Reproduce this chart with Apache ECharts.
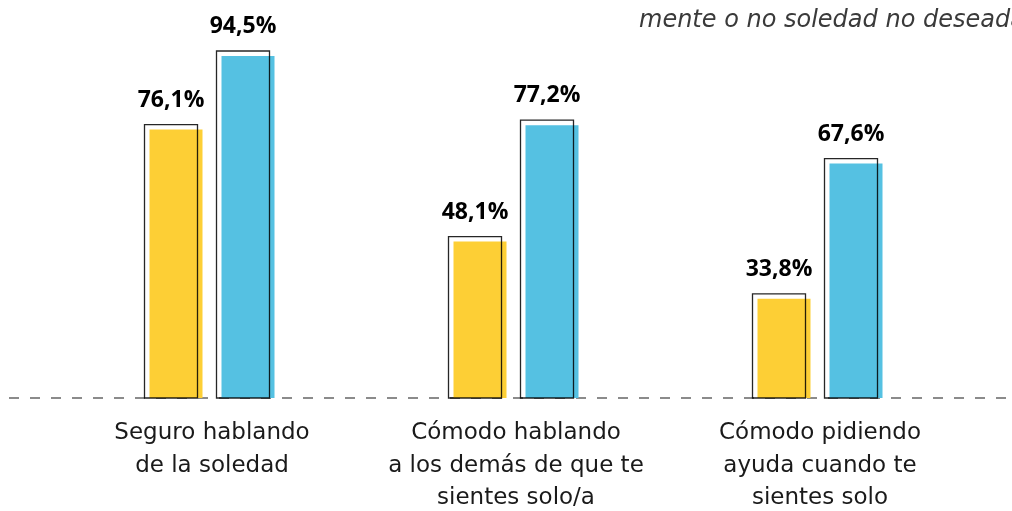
<!DOCTYPE html>
<html>
<head>
<meta charset="utf-8">
<script src="https://cdn.jsdelivr.net/npm/echarts@6/dist/echarts.min.js"></script>
<style>
  html, body { margin: 0; padding: 0; background: #fff; }
  #main { width: 1012px; height: 511px; }
</style>
</head>
<body>
<div id="main"></div>
<script>
// categorias (eje x)
var categorias = [
    'Seguro hablando\nde la soledad',
    'Cómodo hablando\na los demás de que te\nsientes solo/a',
    'Cómodo pidiendo\nayuda cuando te\nsientes solo'
];
// valores de cada serie (%)
var serieAmarilla = [76.1, 48.1, 33.8];
var serieAzul = [94.5, 77.2, 67.6];
// rango del eje y
var yMin = 9;
var yMax = 100;

var titulo = 'mente o no soledad no deseada';

var AMARILLO = '#fdcf35';
var AZUL = '#55c1e2';
var ANCHO = 53;   // ancho de barra
var HUECO = 19;   // hueco entre barras
var DESP = 5;     // desplazamiento del contorno

var myChart = echarts.init(document.getElementById('main'));

// contorno desplazado arriba-izquierda de cada barra
function contorno(lado) {
    return function (params, api) {
        var idx = api.value(0);
        var p = api.coord([idx, api.value(1)]);
        var base = api.coord([idx, yMin]);
        var cx = p[0] + lado * (ANCHO + HUECO) / 2;
        return {
            type: 'rect',
            shape: {
                x: cx - ANCHO / 2 - DESP,
                y: p[1] - DESP,
                width: ANCHO,
                height: base[1] - p[1] + DESP
            },
            style: { fill: null, stroke: 'rgba(0,0,0,0.85)', lineWidth: 1.3 },
            z2: 10
        };
    };
}

function etiqueta(v) {
    return String(v.toFixed(1)).replace('.', ',') + '%';
}

var labelCfg = {
    show: true,
    position: 'top',
    distance: 18,
    offset: [-DESP, 0],
    formatter: function (p) { return etiqueta(p.value); },
    fontFamily: 'Open Sans',
    fontWeight: 'bold',
    fontSize: 23,
    color: '#000'
};

var option = {
    backgroundColor: '#fff',
    animation: false,
    grid: { left: 60, width: 912, top: 34, height: 364, outerBoundsMode: 'none' },
    xAxis: {
        type: 'category',
        data: categorias,
        axisLine: { show: false },
        axisTick: { show: false },
        axisLabel: {
            interval: 0,
            margin: 19,
            fontFamily: 'DejaVu Sans',
            fontSize: 23,
            lineHeight: 32.5,
            color: '#1a1a1a'
        }
    },
    yAxis: {
        type: 'value',
        min: yMin,
        max: yMax,
        show: false,
        splitLine: { show: false }
    },
    series: [
        {
            type: 'bar',
            data: serieAmarilla,
            barWidth: ANCHO,
            barGap: (HUECO / ANCHO * 100) + '%',
            itemStyle: { color: AMARILLO },
            label: labelCfg
        },
        {
            type: 'bar',
            data: serieAzul,
            barWidth: ANCHO,
            itemStyle: { color: AZUL },
            label: labelCfg
        },
        {
            type: 'custom',
            renderItem: contorno(-1),
            data: serieAmarilla.map(function (v, i) { return [i, v]; }),
            z: 5
        },
        {
            type: 'custom',
            renderItem: contorno(1),
            data: serieAzul.map(function (v, i) { return [i, v]; }),
            z: 5
        }
    ]
};

myChart.setOption(option);

// linea base discontinua a todo el ancho y texto de cabecera (cortado por el borde)
var yBase = myChart.convertToPixel({ yAxisIndex: 0 }, yMin);
myChart.setOption({
    graphic: [
        {
            type: 'line',
            shape: { x1: 9, y1: yBase, x2: 1012, y2: yBase },
            style: { stroke: '#666', lineWidth: 1.5, lineDash: [10, 11] },
            z: 1
        },
        {
            type: 'text',
            x: 639,
            y: 9,
            style: {
                text: titulo,
                fontFamily: 'DejaVu Sans',
                fontStyle: 'italic',
                fontSize: 24,
                fill: '#3a3a3a',
                verticalAlign: 'top'
            }
        }
    ]
});
</script>
</body>
</html>
